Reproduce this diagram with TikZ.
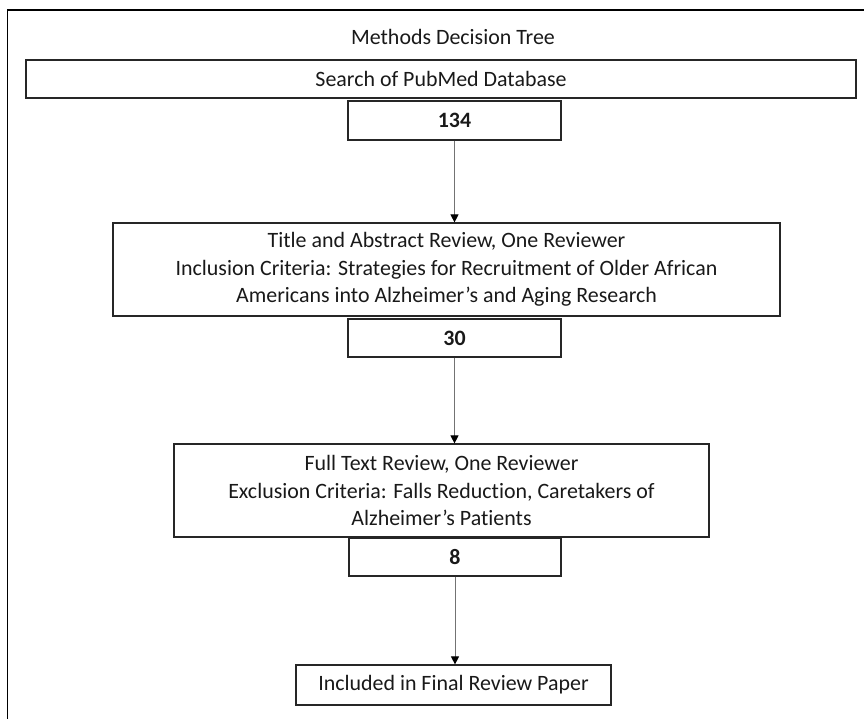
\documentclass[tikz,border=0pt]{standalone}
\usepackage{fontspec}
\setmainfont{Carlito}[Ligatures=NoCommon]
\usetikzlibrary{arrows.meta}
\tikzset{
  box/.style={draw=black!85, line width=1.2bp, rectangle, inner sep=0pt, align=center,
    font=\fontsize{22}{27.5}\selectfont, text=black!90},
  numbox/.style={box, font=\fontsize{22}{26}\selectfont\bfseries},
  link/.style={draw=black!55, line width=1bp, -{Triangle[width=8bp,length=8bp,fill=black,color=black]}},
  frame/.style={draw=black, line width=1.1bp}
}
\begin{document}
\begin{tikzpicture}[x=1bp,y=-1bp]
\useasboundingbox (0,0) rectangle (864,719);
\coordinate (fbl) at (7.5,719);
\coordinate (ftl) at (7.5,10);
\coordinate (fright) at (864,10);
\draw[frame] (fbl) -- (ftl) -- (fright);
\node[font=\fontsize{22}{26}\selectfont, text=black!90] (title) at (453,37) {Methods Decision Tree};
\node[box, minimum width=830bp, minimum height=38bp] (search) at (441,79) {Search of PubMed Database};
\node[numbox, minimum width=213bp, minimum height=39bp] (n134) at (454.5,120.5) {134};
\node[box, minimum width=667bp, minimum height=93bp] (tar) at (446.5,269.5) {Title and Abstract Review, One Reviewer\\Inclusion Criteria: Strategies for Recruitment of Older African\\Americans into Alzheimer’s and Aging Research};
\node[numbox, minimum width=213bp, minimum height=38bp] (n30) at (454.5,338) {30};
\node[box, minimum width=535bp, minimum height=93bp] (ftrev) at (441.5,490.5) {Full Text Review, One Reviewer\\Exclusion Criteria: Falls Reduction, Caretakers of\\Alzheimer’s Patients};
\node[numbox, minimum width=212bp, minimum height=38bp] (n8) at (455,557) {8};
\node[box, minimum width=315bp, minimum height=40bp] (final) at (453.5,685) {Included in Final Review Paper};
\draw[link] (n134.south) -- (n134.south |- tar.north);
\draw[link] (n30.south) -- (n30.south |- ftrev.north);
\draw[link] (n8.south) -- (n8.south |- final.north);
\end{tikzpicture}
\end{document}
